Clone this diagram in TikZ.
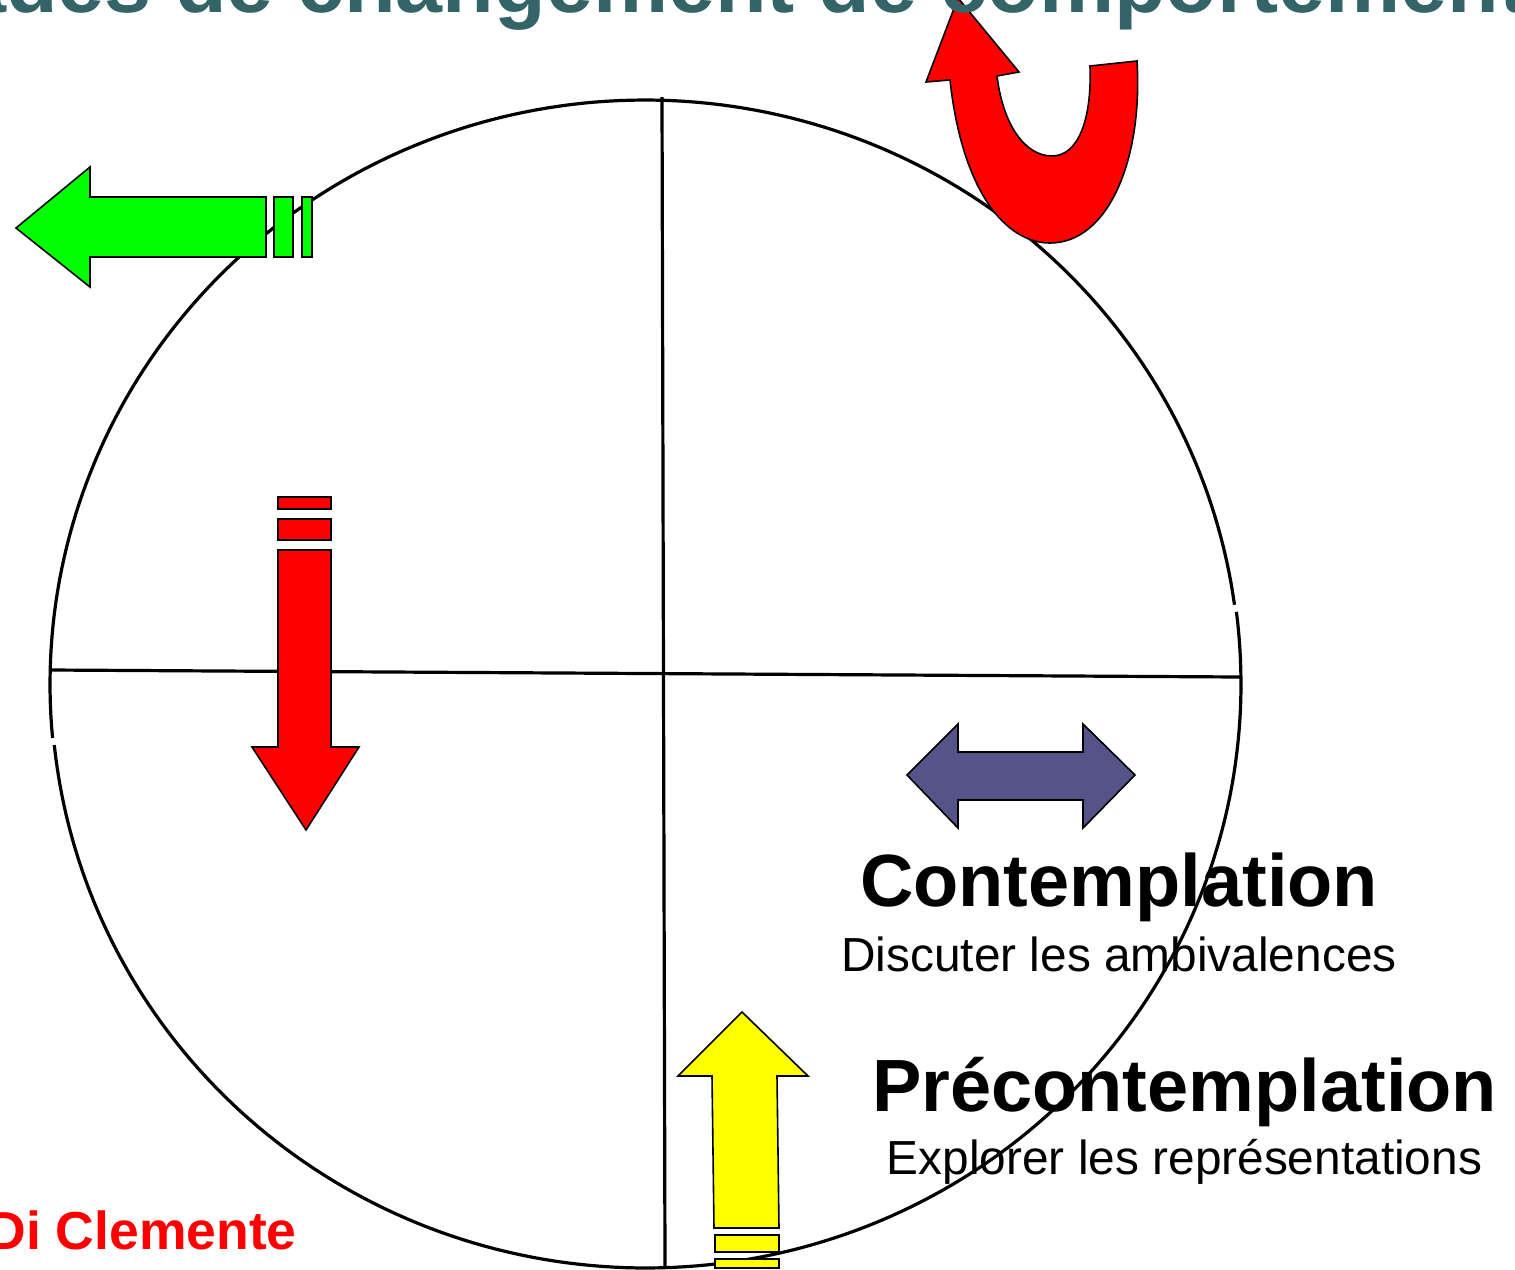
\documentclass[tikz,border=0pt]{standalone}
\usepackage{fontspec}
\setmainfont{Liberation Sans}
\definecolor{titleteal}{RGB}{51,100,104}
\definecolor{arrgreen}{RGB}{0,255,0}
\definecolor{arrred}{RGB}{255,0,0}
\definecolor{arryellow}{RGB}{255,255,0}
\definecolor{arrblue}{RGB}{84,84,136}
\tikzset{
  ring/.style={line width=3.2pt, black},
  axisline/.style={line width=3.2pt, black},
  blockarrow/.style={draw=black, line width=1.6pt, line join=miter},
  stagetitle/.style={inner sep=0pt, anchor=base, font=\fontsize{74}{80}\selectfont\bfseries},
  stagetext/.style={inner sep=0pt, anchor=base, font=\fontsize{47.8}{54}\selectfont},
}
\begin{document}
\begin{tikzpicture}[x=1pt,y=-1pt]
\useasboundingbox (0,0) rectangle (1515,1269);
\clip (0,0) rectangle (1515,1269);
\fill[white] (0,0) rectangle (1515,1269);

% circle (two arcs with small gaps) and axes
\draw[ring] plot[domain=174.7:352.2, samples=160] ({645+595*cos(\x)}, {684+584*sin(\x)});
\draw[ring] plot[domain=352.9:534.0, samples=160] ({646+595*cos(\x)}, {684+584*sin(\x)});
\coordinate (vtop) at (662,97);
\coordinate (vbot) at (665,1266);
\coordinate (hleft) at (50,670);
\coordinate (hright) at (1240,677);
\draw[axisline] (vtop) -- (vbot);
\draw[axisline] (hleft) -- (hright);

% red U-turn arrow
\filldraw[blockarrow, fill=arrred]
  (958,-2) -- (1019,72) -- (997,76)
  .. controls (1003,125) and (1025,156) .. (1052,156)
  .. controls (1078,156) and (1092,120) .. (1090,66)
  -- (1137,61)
  .. controls (1143,160) and (1108,243) .. (1050,243)
  .. controls (1005,243) and (962,190) .. (950,80)
  -- (926,82) -- cycle;

% green left arrow
\filldraw[blockarrow, fill=arrgreen]
  (16,228) -- (90,167) -- (90,197) -- (266,197) -- (266,257) -- (90,257) -- (90,287) -- cycle;
\filldraw[blockarrow, fill=arrgreen] (274,197) rectangle (293,257);
\filldraw[blockarrow, fill=arrgreen] (302,197) rectangle (312,257);

% red down arrow
\filldraw[blockarrow, fill=arrred] (278,497) rectangle (331,509);
\filldraw[blockarrow, fill=arrred] (278,519) rectangle (331,540);
\filldraw[blockarrow, fill=arrred]
  (278,550) -- (331,550) -- (331,747) -- (359,747) -- (306,830) -- (252,747) -- (278,747) -- cycle;

% yellow up arrow
\filldraw[blockarrow, fill=arryellow]
  (742,1012) -- (808,1076) -- (777,1076) -- (779,1228) -- (714,1228) -- (712,1076) -- (678,1076) -- cycle;
\filldraw[blockarrow, fill=arryellow] (715,1235) rectangle (779,1252);
\filldraw[blockarrow, fill=arryellow] (715,1259) rectangle (779,1268);

% blue double arrow
\filldraw[blockarrow, fill=arrblue]
  (907,775) -- (958,724) -- (958,752) -- (1083,752) -- (1083,724) -- (1135,775)
  -- (1083,828) -- (1083,800) -- (958,800) -- (958,828) -- cycle;

% title (cut by the top edge)
\node[inner sep=0pt, anchor=base west, text=titleteal,
      font=\fontsize{84.5}{90}\selectfont\bfseries] (title) at (6,12)
  {\llap{Sta}des de changement de comportement};

% stage labels
\node[stagetitle] (contemp) at (1119,906) {Contemplation};
\node[stagetext] (contempsub) at (1119,971) {Discuter les ambivalences};
\node[stagetitle] (precontemp) at (1184.5,1111) {Précontemplation};
\node[stagetext] (precontempsub) at (1184.5,1174) {Explorer les représentations};

% author
\node[inner sep=0pt, anchor=base east, text=arrred,
      font=\fontsize{53.5}{60}\selectfont\bfseries] (author) at (297,1249) {Di Clemente};
\end{tikzpicture}
\end{document}
